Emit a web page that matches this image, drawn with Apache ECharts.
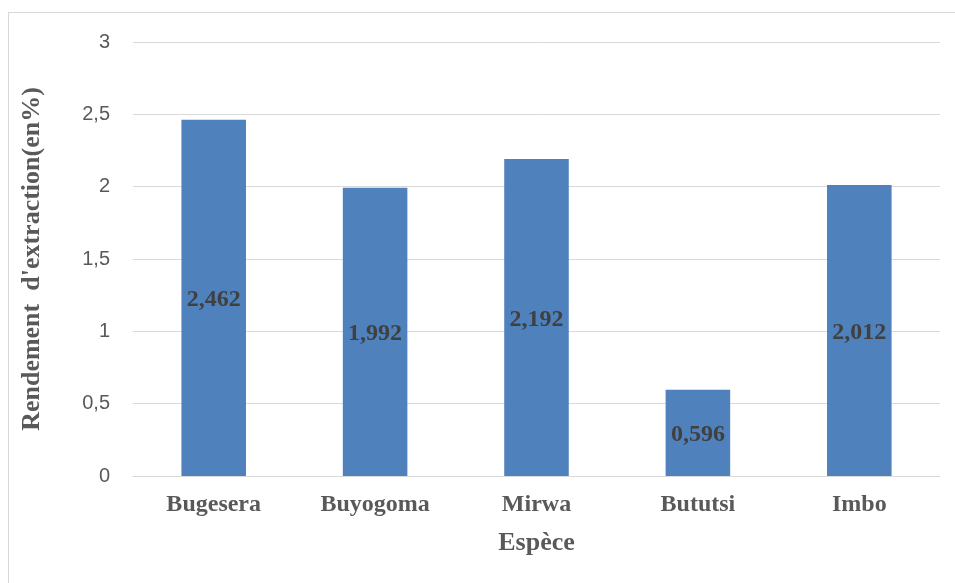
<!DOCTYPE html>
<html>
<head>
<meta charset="utf-8">
<script src="https://cdn.jsdelivr.net/npm/echarts@6/dist/echarts.min.js"></script>
<style>
html,body{margin:0;padding:0;background:#fff;}
#frame{position:absolute;left:8px;top:12px;width:960px;height:600px;border:1px solid #d9d9d9;box-sizing:border-box;}
#chart{position:absolute;left:0;top:0;width:955px;height:583px;}
</style>
</head>
<body>
<div id="frame"></div>
<div id="chart"></div>
<script>
const categories = ['Bugesera', 'Buyogoma', 'Mirwa', 'Bututsi', 'Imbo'];
const values = [2.462, 1.992, 2.192, 0.596, 2.012];
const yTicks = [0, 0.5, 1, 1.5, 2, 2.5, 3];

const fmt = v => String(v).replace('.', ',');

const chart = echarts.init(document.getElementById('chart'));
chart.setOption({
  animation: false,
  grid: { left: 133, right: 15, top: 42, bottom: 107 },
  xAxis: {
    type: 'category',
    data: categories,
    name: 'Espèce',
    nameLocation: 'middle',
    nameGap: 54,
    nameTextStyle: { fontFamily: 'Liberation Serif', fontWeight: 'bold', fontSize: 26, color: '#595959' },
    axisLine: { lineStyle: { color: '#d9d9d9', width: 1 } },
    axisTick: { show: false },
    axisLabel: { fontFamily: 'Liberation Serif', fontWeight: 'bold', fontSize: 24, color: '#595959', margin: 17 }
  },
  yAxis: {
    type: 'value',
    min: yTicks[0],
    max: yTicks[yTicks.length - 1],
    interval: 0.5,
    name: "Rendement  d'extraction(en%)",
    nameLocation: 'middle',
    nameGap: 88,
    nameTextStyle: { fontFamily: 'Liberation Serif', fontWeight: 'bold', fontSize: 26, color: '#595959' },
    axisLine: { show: false },
    axisTick: { show: false },
    splitLine: { lineStyle: { color: '#d9d9d9', width: 1 } },
    axisLabel: { fontFamily: 'Liberation Sans', fontSize: 20, color: '#595959', margin: 23, formatter: v => fmt(v) }
  },
  series: [{
    type: 'bar',
    data: values,
    barWidth: '40%',
    itemStyle: { color: '#4f81bd' },
    label: {
      show: true,
      position: 'inside',
      offset: [0, 2],
      formatter: p => fmt(p.value),
      fontFamily: 'Liberation Serif',
      fontWeight: 'bold',
      fontSize: 24,
      color: '#404040'
    }
  }]
});
</script>
</body>
</html>
